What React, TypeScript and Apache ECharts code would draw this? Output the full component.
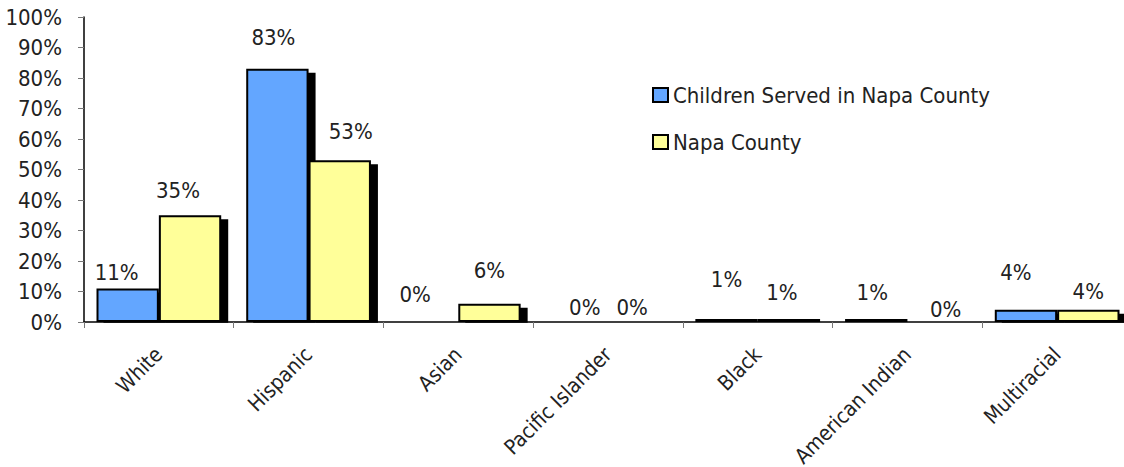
import React, { useEffect, useRef } from "react";
import * as echarts from "echarts";

const categories = ["White", "Hispanic", "Asian", "Pacific Islander", "Black", "American Indian", "Multiracial"];
const childrenServed = [11, 83, 0, 0, 1, 1, 4];
const napaCounty = [35, 53, 6, 0, 1, 0, 4];
const seriesNames = ["Children Served in Napa County", "Napa County"];
const yTicks = [0, 10, 20, 30, 40, 50, 60, 70, 80, 90, 100];

// label nudges [dx, dy] (styling only)
const nudgeBlue = [[-11, 0], [-4, -15], [-12, -11], [8, 2], [0, -23], [-4, -10], [-10, -21]];
const nudgeYellow = [[-12, -9], [11, -13], [0, -17], [-7, 2], [-7, -10], [7, 4], [0, -2]];

const FONT = '"Liberation Sans Narrow", "Arial Narrow", "DejaVu Sans Condensed", sans-serif';

export default function App() {
  const ref = useRef<HTMLDivElement>(null);
  useEffect(() => {
    if (!ref.current) return;
    const chart = echarts.init(ref.current, null, { renderer: "svg" });
    const mk = (name: string, vals: number[], color: string, nudges: number[][]) => ({
      name,
      type: "bar",
      barGap: "0%",
      barCategoryGap: "16.7%",
      data: vals.map((v, i) => ({
        value: v,
        label: { offset: nudges[i] },
      })),
      itemStyle: {
        color,
        borderColor: "#000",
        borderWidth: 2,
        shadowColor: "#000",
        shadowBlur: 0,
        shadowOffsetX: 7,
        shadowOffsetY: 4,
      },
      label: {
        show: true,
        position: "top",
        distance: 5,
        formatter: (p: any) => p.value + "%",
        fontFamily: FONT,
        fontSize: 22,
        color: "#222",
      },
    });
    chart.setOption({
      animation: false,
      backgroundColor: "#fff",
      grid: { left: 84, top: 17, width: 1048, bottom: 145, containLabel: false, outerBoundsMode: "none" },
      graphic: [
        {
          type: "rect",
          z: 4,
          silent: true,
          shape: { x: 80, y: 322.8, width: 1060, height: 10 },
          style: { fill: "#fff" },
        },
      ],
      legend: {
        orient: "vertical",
        left: 647,
        top: 79,
        itemWidth: 15,
        itemHeight: 14,
        itemGap: 25,
        icon: "rect",
        data: seriesNames,
        itemStyle: { borderColor: "#000", borderWidth: 2, shadowBlur: 0, shadowOffsetX: 0, shadowOffsetY: 0, shadowColor: "transparent" },
        textStyle: { fontFamily: FONT, fontSize: 22, color: "#222", lineHeight: 22 },
      },
      xAxis: {
        type: "category",
        z: 5,
        data: categories,
        axisLine: { lineStyle: { color: "#000", width: 1.5 } },
        axisTick: { show: true, length: 6, lineStyle: { color: "#777" } },
        axisLabel: {
          rotate: 45,
          interval: 0,
          margin: 29,
          fontFamily: FONT,
          fontSize: 21,
          color: "#222",
        },
      },
      yAxis: {
        type: "value",
        z: 5,
        min: 0,
        max: 100,
        interval: 10,
        splitLine: { show: false },
        axisLine: { show: true, lineStyle: { color: "#000", width: 1.5 } },
        axisTick: { show: true, length: 6, lineStyle: { color: "#777" } },
        axisLabel: {
          margin: 22,
          fontFamily: FONT,
          fontSize: 22,
          color: "#222",
          formatter: (v: number) => (yTicks.includes(v) ? v + "%" : ""),
        },
      },
      series: [
        mk(seriesNames[0], childrenServed, "#63A6FF", nudgeBlue),
        mk(seriesNames[1], napaCounty, "#FFFF99", nudgeYellow),
      ],
    });
    return () => chart.dispose();
  }, []);
  return <div ref={ref} style={{ position: "fixed", left: 0, top: 0, width: 1124, height: 467 }} />;
}
